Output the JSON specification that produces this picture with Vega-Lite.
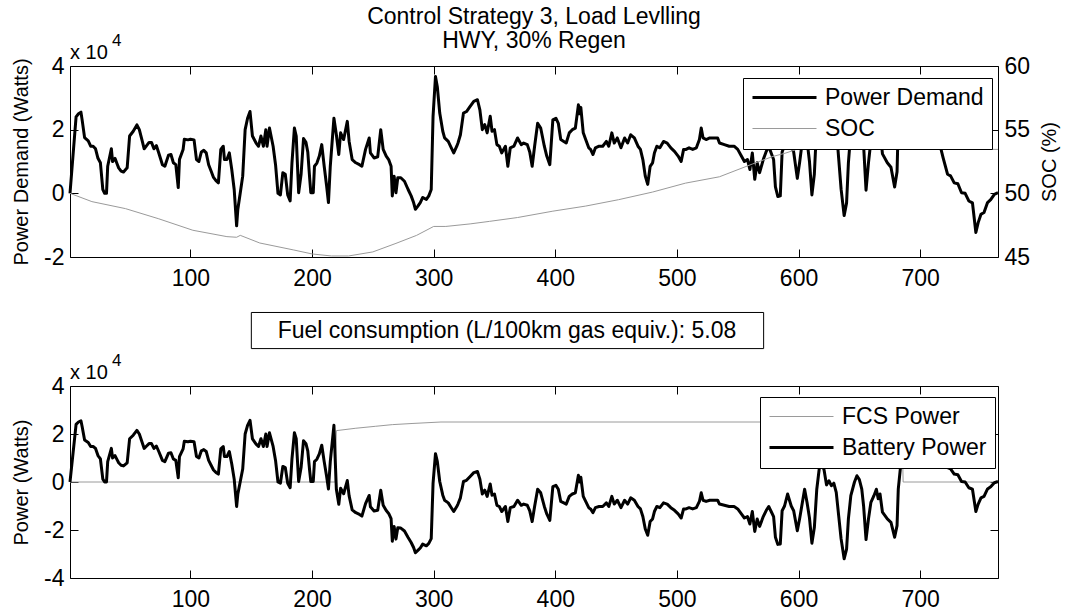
{
"$schema": "https://vega.github.io/schema/vega-lite/v6.json",
"background": "white",
"padding": {"left": 11, "top": 5, "right": 5, "bottom": 0},
"config": {
  "font": "Liberation Sans",
  "view": {"stroke": "black", "strokeWidth": 1},
  "axis": {"grid": false, "domain": false, "labelFontSize": 23, "labelColor": "black", "labelFont": "Liberation Sans", "titleFont": "Liberation Sans", "titleFontSize": 20, "titleFontWeight": "normal", "titleColor": "black", "tickColor": "black", "tickSize": -8, "labelPadding": 14},
  "axisX": {"labelPadding": 18},
  "legend": {"labelFontSize": 23, "labelFont": "Liberation Sans", "labelColor": "black", "labelLimit": 400},
  "title": {"font": "Liberation Sans", "fontSize": 23, "fontWeight": "normal", "color": "black"}
},
"datasets": {
"demand": [
{"t":1,"w":0},{"t":6,"w":24000},{"t":8,"w":25000},{"t":10,"w":25500},{"t":11,"w":23000},{"t":13,"w":17500},{"t":16,"w":16500},{"t":18,"w":14800},{"t":20,"w":14800},{"t":22,"w":14000},{"t":24,"w":11000},{"t":26,"w":9600},{"t":28,"w":1200},{"t":29.5,"w":0},{"t":31,"w":0},{"t":32,"w":8500},{"t":35,"w":14000},{"t":36,"w":10000},{"t":38,"w":11000},{"t":40,"w":9000},{"t":41,"w":8000},{"t":43,"w":7000},{"t":45,"w":6700},{"t":48,"w":8000},{"t":50,"w":18000},{"t":53,"w":19500},{"t":56,"w":21500},{"t":58,"w":20000},{"t":60,"w":17000},{"t":62,"w":14000},{"t":64,"w":15000},{"t":66,"w":16000},{"t":68,"w":16000},{"t":70,"w":14000},{"t":72,"w":15000},{"t":74,"w":12700},{"t":77,"w":9000},{"t":79,"w":8500},{"t":82,"w":12000},{"t":84,"w":12200},{"t":86,"w":9600},{"t":88,"w":9000},{"t":90,"w":1800},{"t":91,"w":10600},{"t":94,"w":13800},{"t":95,"w":17000},{"t":98,"w":16800},{"t":100,"w":17000},{"t":103,"w":16800},{"t":105,"w":10600},{"t":107,"w":10000},{"t":109,"w":13000},{"t":111,"w":13500},{"t":113,"w":12700},{"t":115,"w":9000},{"t":117,"w":7000},{"t":119,"w":5000},{"t":121,"w":4000},{"t":123,"w":3300},{"t":125,"w":13800},{"t":127,"w":14800},{"t":128,"w":10600},{"t":130,"w":10600},{"t":132,"w":12700},{"t":134,"w":7500},{"t":136,"w":1200},{"t":138,"w":-10200},{"t":139,"w":-5000},{"t":141,"w":200},{"t":143,"w":5400},{"t":145,"w":20000},{"t":147,"w":23600},{"t":149,"w":25700},{"t":151,"w":18000},{"t":154,"w":15800},{"t":156,"w":14800},{"t":158,"w":18000},{"t":160,"w":14800},{"t":162,"w":20000},{"t":163,"w":14800},{"t":165,"w":20500},{"t":168,"w":14800},{"t":170,"w":9000},{"t":172,"w":0},{"t":174,"w":-500},{"t":176,"w":6500},{"t":178,"w":6000},{"t":180,"w":-500},{"t":182,"w":-2400},{"t":183.5,"w":9600},{"t":185.5,"w":20500},{"t":187,"w":18000},{"t":189,"w":200},{"t":191,"w":6000},{"t":193,"w":17200},{"t":195,"w":16000},{"t":196.5,"w":13000},{"t":198,"w":5000},{"t":199,"w":200},{"t":201,"w":200},{"t":202,"w":8500},{"t":204,"w":9500},{"t":206,"w":11700},{"t":208,"w":15300},{"t":210,"w":8500},{"t":212,"w":2300},{"t":213.5,"w":-2900},{"t":215,"w":8500},{"t":218,"w":23600},{"t":220,"w":18400},{"t":222,"w":12200},{"t":223.5,"w":19000},{"t":226,"w":16900},{"t":229,"w":22600},{"t":230.5,"w":16300},{"t":233,"w":10600},{"t":236,"w":9600},{"t":239,"w":9000},{"t":241,"w":8500},{"t":244,"w":13800},{"t":247,"w":17400},{"t":248,"w":12700},{"t":251,"w":11100},{"t":254,"w":11500},{"t":256.5,"w":20000},{"t":258.5,"w":13800},{"t":261,"w":11700},{"t":263,"w":10600},{"t":265,"w":8500},{"t":266,"w":-800},{"t":267.5,"w":5400},{"t":269,"w":200},{"t":270.5,"w":4900},{"t":273,"w":4900},{"t":276,"w":3800},{"t":279,"w":1200},{"t":281.5,"w":-800},{"t":283.5,"w":-2900},{"t":285,"w":-5000},{"t":287,"w":-4000},{"t":289,"w":-2900},{"t":291,"w":-1300},{"t":294,"w":-1900},{"t":296,"w":-800},{"t":298,"w":1200},{"t":299.5,"w":24200},{"t":301.5,"w":36700},{"t":303,"w":33500},{"t":305,"w":25200},{"t":307.5,"w":19500},{"t":309,"w":17400},{"t":312,"w":16300},{"t":314.5,"w":14300},{"t":316.5,"w":12700},{"t":319,"w":14800},{"t":320,"w":15800},{"t":322,"w":18400},{"t":324.5,"w":25200},{"t":327,"w":25700},{"t":330,"w":27300},{"t":333,"w":28900},{"t":336,"w":29400},{"t":338,"w":26200},{"t":340,"w":20000},{"t":342,"w":21600},{"t":344,"w":19000},{"t":346.5,"w":24200},{"t":348,"w":19500},{"t":350,"w":20000},{"t":352,"w":15300},{"t":354,"w":14800},{"t":356,"w":12700},{"t":359,"w":14800},{"t":361,"w":8500},{"t":363,"w":14300},{"t":366,"w":14800},{"t":369,"w":17400},{"t":372,"w":15300},{"t":374,"w":15800},{"t":377,"w":15300},{"t":379,"w":13000},{"t":381,"w":8500},{"t":383,"w":14800},{"t":385.5,"w":22000},{"t":388,"w":20500},{"t":391,"w":14800},{"t":393,"w":11700},{"t":395.5,"w":9000},{"t":398,"w":23100},{"t":400.5,"w":23600},{"t":402.5,"w":22000},{"t":404.5,"w":16900},{"t":407,"w":16300},{"t":409,"w":15800},{"t":411.5,"w":19000},{"t":414,"w":20000},{"t":416.5,"w":20500},{"t":419,"w":27800},{"t":420,"w":25000},{"t":421,"w":27000},{"t":423,"w":19000},{"t":425,"w":16900},{"t":427.5,"w":14300},{"t":429,"w":13800},{"t":431,"w":12200},{"t":433,"w":14300},{"t":436,"w":14800},{"t":439,"w":14800},{"t":442,"w":16300},{"t":444,"w":14800},{"t":446.5,"w":19000},{"t":448.5,"w":15800},{"t":451,"w":17400},{"t":454,"w":14300},{"t":457,"w":17400},{"t":459.5,"w":15800},{"t":462,"w":18400},{"t":465,"w":17400},{"t":468,"w":14800},{"t":470,"w":13800},{"t":472,"w":10600},{"t":474,"w":5400},{"t":476,"w":2800},{"t":478,"w":8500},{"t":480,"w":9600},{"t":481.5,"w":12700},{"t":483.5,"w":14800},{"t":486,"w":14300},{"t":489,"w":16300},{"t":492,"w":15800},{"t":495,"w":14300},{"t":498,"w":13200},{"t":501,"w":11700},{"t":503.5,"w":10000},{"t":505.5,"w":13800},{"t":507.5,"w":13800},{"t":510,"w":14300},{"t":513,"w":13800},{"t":516,"w":14300},{"t":518.5,"w":16900},{"t":520,"w":20500},{"t":521.5,"w":17400},{"t":524,"w":16900},{"t":527,"w":17400},{"t":531,"w":17400},{"t":533.5,"w":17400},{"t":535,"w":15800},{"t":539,"w":15300},{"t":543,"w":14800},{"t":547,"w":14800},{"t":550,"w":13800},{"t":553,"w":11700},{"t":555.5,"w":10000},{"t":558,"w":10600},{"t":560,"w":7500},{"t":562,"w":12700},{"t":564,"w":4400},{"t":566,"w":9600},{"t":568,"w":6500},{"t":571,"w":10600},{"t":573.5,"w":13200},{"t":575.5,"w":14800},{"t":577.5,"w":12700},{"t":579.5,"w":10600},{"t":581,"w":2000},{"t":583,"w":-1000},{"t":585,"w":-800},{"t":586.5,"w":13000},{"t":588.5,"w":15000},{"t":591,"w":20000},{"t":594,"w":15000},{"t":596,"w":13000},{"t":599,"w":4700},{"t":601,"w":10000},{"t":605,"w":22000},{"t":607,"w":16500},{"t":609,"w":10000},{"t":611,"w":-500},{"t":613,"w":6000},{"t":615,"w":22000},{"t":617,"w":30400},{"t":619,"w":33000},{"t":621,"w":30000},{"t":623,"w":23800},{"t":625,"w":25500},{"t":627,"w":23500},{"t":629,"w":24500},{"t":631,"w":20700},{"t":633,"w":11000},{"t":635,"w":1300},{"t":637.5,"w":-7000},{"t":639.5,"w":-3000},{"t":641,"w":9600},{"t":643,"w":19300},{"t":646,"w":25000},{"t":648,"w":27600},{"t":650,"w":26000},{"t":652,"w":22000},{"t":653.5,"w":15000},{"t":655.5,"w":1000},{"t":657.5,"w":9600},{"t":659.5,"w":16500},{"t":662,"w":19300},{"t":664,"w":22000},{"t":665.5,"w":18000},{"t":667,"w":20000},{"t":669,"w":12400},{"t":673,"w":9600},{"t":676,"w":8200},{"t":679,"w":2000},{"t":681,"w":6800},{"t":682,"w":22000},{"t":684,"w":32000},{"t":688,"w":30000},{"t":692,"w":26000},{"t":697,"w":24000},{"t":702,"w":22000},{"t":707,"w":20000},{"t":712,"w":18000},{"t":716.5,"w":14800},{"t":719,"w":11000},{"t":722.5,"w":6000},{"t":725,"w":5500},{"t":728,"w":3300},{"t":731,"w":3000},{"t":734,"w":200},{"t":737,"w":0},{"t":740,"w":-2400},{"t":743,"w":-3000},{"t":745.8,"w":-12300},{"t":747.7,"w":-9200},{"t":750,"w":-6600},{"t":752.5,"w":-6000},{"t":755.4,"w":-2900},{"t":758,"w":-2000},{"t":761,"w":-300},{"t":764,"w":200}
],
"battery": [
{"t":1,"w":0},{"t":6,"w":24000},{"t":8,"w":25000},{"t":10,"w":25500},{"t":11,"w":23000},{"t":13,"w":17500},{"t":16,"w":16500},{"t":18,"w":14800},{"t":20,"w":14800},{"t":22,"w":14000},{"t":24,"w":11000},{"t":26,"w":9600},{"t":28,"w":1200},{"t":29.5,"w":0},{"t":31,"w":0},{"t":32,"w":8500},{"t":35,"w":14000},{"t":36,"w":10000},{"t":38,"w":11000},{"t":40,"w":9000},{"t":41,"w":8000},{"t":43,"w":7000},{"t":45,"w":6700},{"t":48,"w":8000},{"t":50,"w":18000},{"t":53,"w":19500},{"t":56,"w":21500},{"t":58,"w":20000},{"t":60,"w":17000},{"t":62,"w":14000},{"t":64,"w":15000},{"t":66,"w":16000},{"t":68,"w":16000},{"t":70,"w":14000},{"t":72,"w":15000},{"t":74,"w":12700},{"t":77,"w":9000},{"t":79,"w":8500},{"t":82,"w":12000},{"t":84,"w":12200},{"t":86,"w":9600},{"t":88,"w":9000},{"t":90,"w":1800},{"t":91,"w":10600},{"t":94,"w":13800},{"t":95,"w":17000},{"t":98,"w":16800},{"t":100,"w":17000},{"t":103,"w":16800},{"t":105,"w":10600},{"t":107,"w":10000},{"t":109,"w":13000},{"t":111,"w":13500},{"t":113,"w":12700},{"t":115,"w":9000},{"t":117,"w":7000},{"t":119,"w":5000},{"t":121,"w":4000},{"t":123,"w":3300},{"t":125,"w":13800},{"t":127,"w":14800},{"t":128,"w":10600},{"t":130,"w":10600},{"t":132,"w":12700},{"t":134,"w":7500},{"t":136,"w":1200},{"t":138,"w":-10200},{"t":139,"w":-5000},{"t":141,"w":200},{"t":143,"w":5400},{"t":145,"w":20000},{"t":147,"w":23600},{"t":149,"w":25700},{"t":151,"w":18000},{"t":154,"w":15800},{"t":156,"w":14800},{"t":158,"w":18000},{"t":160,"w":14800},{"t":162,"w":20000},{"t":163,"w":14800},{"t":165,"w":20500},{"t":168,"w":14800},{"t":170,"w":9000},{"t":172,"w":0},{"t":174,"w":-500},{"t":176,"w":6500},{"t":178,"w":6000},{"t":180,"w":-500},{"t":182,"w":-2400},{"t":183.5,"w":9600},{"t":185.5,"w":20500},{"t":187,"w":18000},{"t":189,"w":200},{"t":191,"w":6000},{"t":193,"w":17200},{"t":195,"w":16000},{"t":196.5,"w":13000},{"t":198,"w":5000},{"t":199,"w":200},{"t":201,"w":200},{"t":202,"w":8500},{"t":204,"w":9500},{"t":206,"w":11700},{"t":208,"w":15300},{"t":210,"w":8500},{"t":212,"w":2300},{"t":213.5,"w":-2900},{"t":215,"w":8500},{"t":218,"w":23600},
{"t":220,"w":-3000},{"t":222,"w":-9300},{"t":223.5,"w":-2600},{"t":226,"w":-4900},{"t":229,"w":600},{"t":230.5,"w":-5800},{"t":233,"w":-11600},{"t":236,"w":-12800},{"t":239,"w":-13500},{"t":241,"w":-14200},{"t":244,"w":-9000},{"t":247,"w":-5600},{"t":248,"w":-10300},{"t":251,"w":-12100},{"t":254,"w":-11800},{"t":256.5,"w":-3400},{"t":258.5,"w":-9700},{"t":261,"w":-11900},{"t":263,"w":-13100},{"t":265,"w":-15300},{"t":266,"w":-24700},{"t":267.5,"w":-18500},{"t":269,"w":-23800},{"t":270.5,"w":-19100},{"t":273,"w":-19200},{"t":276,"w":-20400},{"t":279,"w":-23100},{"t":281.5,"w":-25200},{"t":283.5,"w":-27300},{"t":285,"w":-29500},{"t":287,"w":-28500},{"t":289,"w":-27500},{"t":291,"w":-25900},{"t":294,"w":-26600},{"t":296,"w":-25600},{"t":298,"w":-23600},{"t":299.5,"w":-600},{"t":301.5,"w":11800},{"t":303,"w":8600},{"t":305,"w":200},
{"t":307.5,"w":-5500},{"t":309,"w":-7600},{"t":312,"w":-8700},{"t":314.5,"w":-10700},{"t":316.5,"w":-12300},{"t":319,"w":-10200},{"t":320,"w":-9200},{"t":322,"w":-6600},{"t":324.5,"w":200},{"t":327,"w":700},{"t":330,"w":2300},{"t":333,"w":3900},{"t":336,"w":4400},{"t":338,"w":1200},{"t":340,"w":-5000},{"t":342,"w":-3400},{"t":344,"w":-6000},{"t":346.5,"w":-800},{"t":348,"w":-5500},{"t":350,"w":-5000},{"t":352,"w":-9700},{"t":354,"w":-10200},{"t":356,"w":-12300},{"t":359,"w":-10200},{"t":361,"w":-16500},{"t":363,"w":-10700},{"t":366,"w":-10200},{"t":369,"w":-7600},{"t":372,"w":-9700},{"t":374,"w":-9200},{"t":377,"w":-9700},{"t":379,"w":-12000},{"t":381,"w":-16500},{"t":383,"w":-10200},{"t":385.5,"w":-3000},{"t":388,"w":-4500},{"t":391,"w":-10200},{"t":393,"w":-13300},{"t":395.5,"w":-16000},{"t":398,"w":-1900},{"t":400.5,"w":-1400},{"t":402.5,"w":-3000},{"t":404.5,"w":-8100},{"t":407,"w":-8700},{"t":409,"w":-9200},{"t":411.5,"w":-6000},{"t":414,"w":-5000},{"t":416.5,"w":-4500},{"t":419,"w":2800},{"t":420,"w":0},{"t":421,"w":2000},{"t":423,"w":-6000},{"t":425,"w":-8100},{"t":427.5,"w":-10700},{"t":429,"w":-11200},{"t":431,"w":-12800},{"t":433,"w":-10700},{"t":436,"w":-10200},{"t":439,"w":-10200},{"t":442,"w":-8700},{"t":444,"w":-10200},{"t":446.5,"w":-6000},{"t":448.5,"w":-9200},{"t":451,"w":-7600},{"t":454,"w":-10700},{"t":457,"w":-7600},{"t":459.5,"w":-9200},{"t":462,"w":-6600},{"t":465,"w":-7600},{"t":468,"w":-10200},{"t":470,"w":-11200},{"t":472,"w":-14400},{"t":474,"w":-19600},{"t":476,"w":-22200},{"t":478,"w":-16500},{"t":480,"w":-15400},{"t":481.5,"w":-12300},{"t":483.5,"w":-10200},{"t":486,"w":-10700},{"t":489,"w":-8700},{"t":492,"w":-9200},{"t":495,"w":-10700},{"t":498,"w":-11800},{"t":501,"w":-13300},{"t":503.5,"w":-15000},{"t":505.5,"w":-11200},{"t":507.5,"w":-11200},{"t":510,"w":-10700},{"t":513,"w":-11200},{"t":516,"w":-10700},{"t":518.5,"w":-8100},{"t":520,"w":-4500},{"t":521.5,"w":-7600},{"t":524,"w":-8100},{"t":527,"w":-7600},{"t":531,"w":-7600},{"t":533.5,"w":-7600},{"t":535,"w":-9200},{"t":539,"w":-9700},{"t":543,"w":-10200},{"t":547,"w":-10200},{"t":550,"w":-11200},{"t":553,"w":-13300},{"t":555.5,"w":-15000},{"t":558,"w":-14400},{"t":560,"w":-17500},{"t":562,"w":-12300},{"t":564,"w":-20600},{"t":566,"w":-15400},{"t":568,"w":-18500},{"t":571,"w":-14400},{"t":573.5,"w":-11800},{"t":575.5,"w":-10200},{"t":577.5,"w":-12300},{"t":579.5,"w":-14400},{"t":581,"w":-23000},{"t":583,"w":-26000},{"t":585,"w":-25800},{"t":586.5,"w":-12000},{"t":588.5,"w":-10000},{"t":591,"w":-5000},{"t":594,"w":-10000},{"t":596,"w":-12000},{"t":599,"w":-20300},{"t":601,"w":-15000},{"t":605,"w":-3000},{"t":607,"w":-8500},{"t":609,"w":-15000},{"t":611,"w":-25500},{"t":613,"w":-19000},{"t":615,"w":-3000},{"t":617,"w":5400},{"t":619,"w":8000},{"t":621,"w":5000},{"t":623,"w":-1200},{"t":625,"w":500},{"t":627,"w":-1500},{"t":629,"w":-500},{"t":631,"w":-4300},{"t":633,"w":-14000},{"t":635,"w":-23700},{"t":637.5,"w":-32000},{"t":639.5,"w":-28000},{"t":641,"w":-15400},{"t":643,"w":-5700},{"t":646,"w":0},{"t":648,"w":2600},{"t":650,"w":1000},{"t":652,"w":-3000},{"t":653.5,"w":-10000},{"t":655.5,"w":-24000},{"t":657.5,"w":-15400},{"t":659.5,"w":-8500},{"t":662,"w":-5700},{"t":664,"w":-3000},{"t":665.5,"w":-7000},{"t":667,"w":-5000},{"t":669,"w":-12600},{"t":673,"w":-15400},{"t":676,"w":-16800},{"t":679,"w":-23000},{"t":681,"w":-18200},{"t":682,"w":-3000},{"t":684,"w":7000},
{"t":686,"w":31000},{"t":688,"w":30000},{"t":692,"w":26000},{"t":697,"w":24000},{"t":702,"w":22000},{"t":707,"w":20000},{"t":712,"w":18000},{"t":716.5,"w":14800},{"t":719,"w":11000},{"t":722.5,"w":6000},{"t":725,"w":5500},{"t":728,"w":3300},{"t":731,"w":3000},{"t":734,"w":200},{"t":737,"w":0},{"t":740,"w":-2400},{"t":743,"w":-3000},{"t":745.8,"w":-12300},{"t":747.7,"w":-9200},{"t":750,"w":-6600},{"t":752.5,"w":-6000},{"t":755.4,"w":-2900},{"t":758,"w":-2000},{"t":761,"w":-300},{"t":764,"w":200}
],
"fcs": [
{"t":1,"w":0},{"t":219,"w":0},{"t":220,"w":21400},{"t":236,"w":22400},{"t":252,"w":23200},{"t":266,"w":23900},{"t":283,"w":24400},{"t":306,"w":25000},{"t":685,"w":25000},{"t":686,"w":0},{"t":764,"w":0}
],
"soc": [
{"t":1,"soc":50},{"t":19,"soc":49.35},{"t":46.6,"soc":48.8},{"t":74,"soc":48.0},{"t":102,"soc":47.1},{"t":130,"soc":46.6},{"t":138,"soc":46.55},{"t":141,"soc":46.7},{"t":157,"soc":46.1},{"t":185,"soc":45.55},{"t":200,"soc":45.24},{"t":216,"soc":45.08},{"t":230,"soc":45.08},{"t":250,"soc":45.4},{"t":269,"soc":46.07},{"t":286,"soc":46.7},{"t":300,"soc":47.4},{"t":310,"soc":47.4},{"t":330,"soc":47.6},{"t":346,"soc":47.8},{"t":369,"soc":48.1},{"t":398,"soc":48.6},{"t":425,"soc":49.0},{"t":452,"soc":49.5},{"t":480,"soc":50.1},{"t":507,"soc":50.8},{"t":535,"soc":51.3},{"t":562,"soc":52.3},{"t":579,"soc":52.9},{"t":589,"soc":53.15},{"t":600,"soc":53.5},{"t":620,"soc":53.9},{"t":640,"soc":54.3},{"t":660,"soc":54.6},{"t":686,"soc":54.9},{"t":700,"soc":54.2},{"t":714,"soc":53.5},{"t":730,"soc":53.45},{"t":764,"soc":53.45}
],
"exp": [{"base": "x 10", "power": "4"}],
"fuel": [{"label": "Fuel consumption (L/100km gas equiv.): 5.08"}]
},
"spacing": 0,
"bounds": "flush",
"resolve": {"scale": {"color": "independent", "x": "independent", "y": "independent"}, "legend": {"color": "independent"}},
"vconcat": [
{
  "width": 928, "height": 191,
  "title": {"text": ["Control Strategy 3, Load Levlling", "HWY, 30% Regen"], "anchor": "middle", "frame": "group", "offset": -21, "lineHeight": 24},
  "resolve": {"scale": {"x": "independent", "y": "independent"}},
  "layer": [
    {"layer": [
      {"data": {"name": "demand"},
       "mark": {"type": "line", "strokeWidth": 3, "strokeJoin": "round"},
       "encoding": {
         "x": {"field": "t", "type": "quantitative", "scale": {"domain": [1, 764], "nice": false, "zero": false}, "axis": {"values": [100, 200, 300, 400, 500, 600, 700], "title": null}},
         "y": {"field": "w", "type": "quantitative", "scale": {"domain": [-20000, 40000], "nice": false, "zero": false}, "axis": {"values": [-20000, 0, 20000, 40000], "labelExpr": "'' + datum.value / 10000", "title": "Power Demand (Watts)", "titlePadding": 12}},
         "color": {"datum": "Power Demand", "scale": {"domain": ["Power Demand", "SOC"], "range": ["#000000", "#9a9a9a"]},
           "legend": {"orient": "none", "legendX": 673, "legendY": 12, "title": null, "symbolType": "M-1,0H5.4", "symbolSize": 400, "labelOffset": 51, "padding": 8, "rowPadding": 7, "fillColor": "white", "strokeColor": "black",
             "encode": {"symbols": {"update": {"strokeWidth": {"signal": "datum.value === 'SOC' ? 1 : 3"}}}}}}
       }},
      {"data": {"name": "exp"},
       "mark": {"type": "text", "align": "left", "baseline": "alphabetic", "fontSize": 20, "dy": -7},
       "encoding": {"x": {"datum": 1}, "y": {"datum": 40000}, "text": {"field": "base"}}},
      {"data": {"name": "exp"},
       "mark": {"type": "text", "align": "left", "baseline": "alphabetic", "fontSize": 17, "dx": 42, "dy": -20},
       "encoding": {"x": {"datum": 1}, "y": {"datum": 40000}, "text": {"field": "power"}}}
    ]},
    {"data": {"name": "soc"},
     "mark": {"type": "line", "strokeWidth": 1},
     "encoding": {
       "x": {"field": "t", "type": "quantitative", "scale": {"domain": [1, 764], "nice": false, "zero": false}, "axis": {"orient": "top", "values": [100, 200, 300, 400, 500, 600, 700], "labels": false, "title": null}},
       "y": {"field": "soc", "type": "quantitative", "scale": {"domain": [45, 60], "nice": false, "zero": false}, "axis": {"orient": "right", "values": [45, 50, 55, 60], "title": "SOC (%)", "titleAngle": 270, "titleBaseline": "top", "titlePadding": 10}},
       "color": {"datum": "SOC"}
     }}
  ]
},
{
  "width": 928, "height": 129,
  "view": {"stroke": null},
  "data": {"name": "fuel"},
  "layer": [
    {"mark": {"type": "rect", "fill": "white", "stroke": "black", "strokeWidth": 1},
     "encoding": {
       "x": {"datum": 150.1, "type": "quantitative", "scale": {"domain": [1, 764], "nice": false, "zero": false}, "axis": null},
       "x2": {"datum": 571.3},
       "y": {"datum": 0.43, "type": "quantitative", "scale": {"domain": [0, 1], "reverse": true, "nice": false, "zero": false}, "axis": null},
       "y2": {"datum": 0.71}
     }},
    {"mark": {"type": "text", "fontSize": 23, "align": "center", "baseline": "middle"},
     "encoding": {
       "x": {"datum": 360.3, "type": "quantitative"},
       "y": {"datum": 0.57, "type": "quantitative"},
       "text": {"field": "label"}
     }}
  ]
},
{
  "width": 928, "height": 192,
  "resolve": {"scale": {"x": "independent", "y": "independent"}},
  "layer": [
    {"data": {"name": "fcs"},
     "mark": {"type": "line", "strokeWidth": 1},
     "encoding": {
       "x": {"field": "t", "type": "quantitative", "scale": {"domain": [1, 764], "nice": false, "zero": false}, "axis": {"orient": "top", "values": [100, 200, 300, 400, 500, 600, 700], "labels": false, "title": null}},
       "y": {"field": "w", "type": "quantitative", "scale": {"domain": [-40000, 40000], "nice": false, "zero": false}, "axis": {"orient": "right", "values": [-40000, -20000, 0, 20000, 40000], "labels": false, "title": null}},
       "color": {"datum": "FCS Power", "scale": {"domain": ["FCS Power", "Battery Power"], "range": ["#9a9a9a", "#000000"]},
         "legend": {"orient": "none", "legendX": 690, "legendY": 11, "title": null, "symbolType": "M-1,0H5.4", "symbolSize": 400, "labelOffset": 51, "padding": 8, "rowPadding": 7, "fillColor": "white", "strokeColor": "black",
           "encode": {"symbols": {"update": {"strokeWidth": {"signal": "datum.value === 'FCS Power' ? 1 : 3"}}}}}}
     }},
    {"layer": [
      {"data": {"name": "battery"},
       "mark": {"type": "line", "strokeWidth": 3, "strokeJoin": "round"},
       "encoding": {
         "x": {"field": "t", "type": "quantitative", "scale": {"domain": [1, 764], "nice": false, "zero": false}, "axis": {"values": [100, 200, 300, 400, 500, 600, 700], "title": null}},
         "y": {"field": "w", "type": "quantitative", "scale": {"domain": [-40000, 40000], "nice": false, "zero": false}, "axis": {"values": [-40000, -20000, 0, 20000, 40000], "labelExpr": "'' + datum.value / 10000", "title": "Power (Watts)", "titlePadding": 12}},
         "color": {"datum": "Battery Power"}
       }},
      {"data": {"name": "exp"},
       "mark": {"type": "text", "align": "left", "baseline": "alphabetic", "fontSize": 20, "dy": -7},
       "encoding": {"x": {"datum": 1}, "y": {"datum": 40000}, "text": {"field": "base"}}},
      {"data": {"name": "exp"},
       "mark": {"type": "text", "align": "left", "baseline": "alphabetic", "fontSize": 17, "dx": 42, "dy": -20},
       "encoding": {"x": {"datum": 1}, "y": {"datum": 40000}, "text": {"field": "power"}}}
    ]}
  ]
}
]
}
